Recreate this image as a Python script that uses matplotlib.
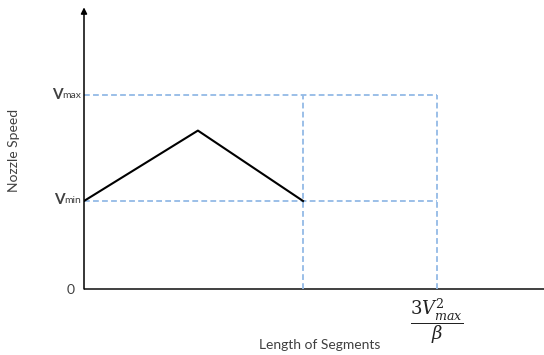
import matplotlib.pyplot as plt

# speed profile along one segment (x in segment lengths, y in speed units)
v_min = 1.0
v_max = 2.2
profile_x = [0.0, 0.52, 1.0]
profile_y = [v_min, 1.8, v_min]
x_seg_end = 1.0
x_limit = 1.61   # 3*Vmax^2/beta

plt.rcParams['font.family'] = ['Lato', 'DejaVu Sans']
plt.rcParams['mathtext.fontset'] = 'dejavuserif'

fig = plt.figure(figsize=(5.44, 3.55), dpi=100)
ax = fig.add_axes([84/544, 66/355, 460/544, 279/355])
ax.set_xlim(0, 2.1)
ax.set_ylim(0, 3.17)
ax.axis('off')

axis_col = '#404040'
dash_col = '#93bae6'
text_col = '#404040'

# axes with arrow on y
ax.plot([0, 2.1], [0, 0], color=axis_col, lw=1.4, clip_on=False, solid_capstyle='butt')
ax.annotate('', xy=(0, 3.2), xytext=(0, 0), annotation_clip=False,
            arrowprops=dict(arrowstyle='-|>', color='black', lw=1.1,
                            mutation_scale=9, shrinkA=0, shrinkB=0))

# dashed guide lines
dash = dict(color=dash_col, lw=1.3, dashes=(3.2, 1.8))
ax.plot([0, x_limit], [v_max, v_max], **dash)
ax.plot([0, x_limit], [v_min, v_min], **dash)
ax.plot([x_seg_end, x_seg_end], [0, v_max], **dash)
ax.plot([x_limit, x_limit], [0, v_max], **dash)

# speed profile
ax.plot(profile_x, profile_y, color='black', lw=1.5)

# y labels: large V, small subscript text on the baseline
for val, sub in [(v_max, 'max'), (v_min, 'min')]:
    t = ax.annotate(sub, xy=(0, val), xytext=(-2, 0), textcoords='offset points',
                    ha='right', va='center', fontsize=7.5, color=text_col)
    ax.annotate('V', xy=(0, 0), xycoords=t, xytext=(0, -1.2), textcoords='offset points',
                ha='right', va='bottom', fontsize=11, fontweight='bold', color=text_col)
ax.annotate('0', xy=(0, 0), xytext=(-7, -1), textcoords='offset points',
            ha='right', va='center', fontsize=10, color=text_col)

ax.text(x_limit, -0.37, r'$\dfrac{3V_{max}^2}{\beta}$', ha='center', va='center',
        fontsize=13, color='#222222')

fig.text(320/544, 1 - 345/355, 'Length of Segments', ha='center', va='center',
         fontsize=10, color=text_col)
fig.text(14/544, 1 - 150/355, 'Nozzle Speed', ha='center', va='center',
         rotation=90, fontsize=10, color=text_col)

fig.savefig('out.png', dpi=100)
